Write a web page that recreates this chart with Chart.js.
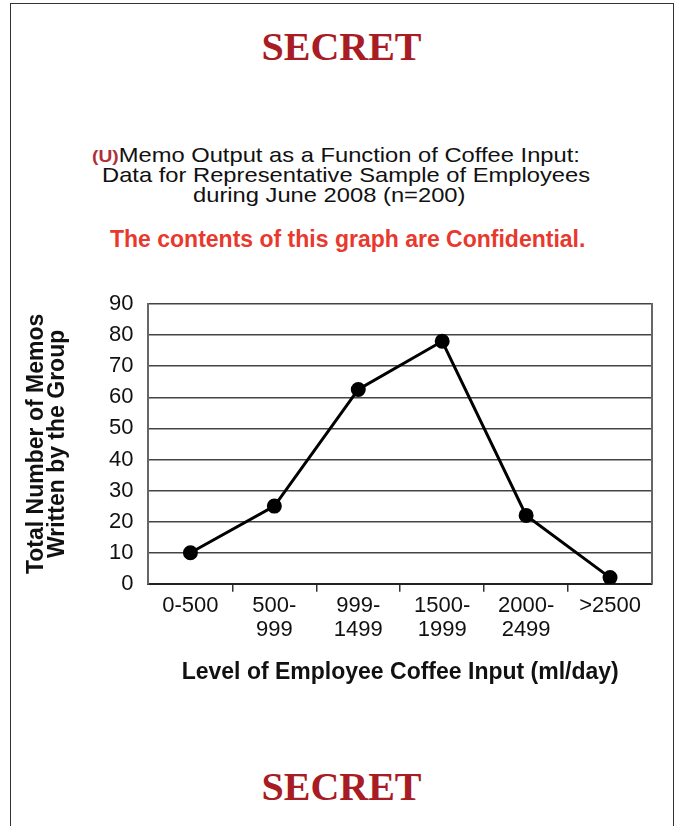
<!DOCTYPE html>
<html>
  <head>
    <title>Memo Output as a Function of Coffee Input</title>
    <script src="https://cdn.jsdelivr.net/npm/chart.js@4"></script>
    <style>
      body {
        margin: 0;
        background: #fff;
        font-family: "Liberation Sans", Arial, sans-serif;
      }
      #page {
        position: relative;
        width: 686px;
        height: 826px;
        overflow: hidden;
      }
      #frame {
        position: absolute;
        left: 10px;
        top: 3px;
        width: 662px;
        height: 900px;
        border: 1.5px solid #333;
      }
      .secret {
        position: absolute;
        left: 0;
        width: 683px;
        text-align: center;
        font-family: "Liberation Serif", "Times New Roman", serif;
        font-weight: bold;
        font-size: 40px;
        line-height: 40px;
        color: #a81c24;
      }
      .title {
        position: absolute;
        font-size: 21px;
        line-height: 20px;
        color: #111;
        white-space: nowrap;
        transform: scaleX(1.13);
        transform-origin: left top;
      }
      .u {
        font-size: 17px;
        font-weight: bold;
        color: #b0303a;
      }
      #confidential {
        position: absolute;
        left: 110px;
        top: 228px;
        font-size: 23px;
        line-height: 23px;
        font-weight: bold;
        color: #e8392e;
        white-space: nowrap;
      }
      #container {
        position: absolute;
        left: 0;
        top: 270px;
        width: 686px;
        height: 440px;
      }
    </style>
  </head>

  <body>
    <div id="page">
      <div id="frame"></div>
      <div class="secret" style="top: 27px">SECRET</div>
      <div class="title" style="left: 92px; top: 145px"><span class="u">(U)</span>Memo Output as a Function of Coffee Input:</div>
      <div class="title" style="left: 102px; top: 165px">Data for Representative Sample of Employees</div>
      <div class="title" style="left: 193px; top: 185px">during June 2008 (n=200)</div>
      <div id="confidential">The contents of this graph are Confidential.</div>
      <div id="container">
        <canvas id="canvas"></canvas>
      </div>
      <div class="secret" style="top: 767px">SECRET</div>
    </div>
    <script>
      // coffee input bands (ml/day)
      const categories = [
        '0-500',
        ['500-', '999'],
        ['999-', '1499'],
        ['1500-', '1999'],
        ['2000-', '2499'],
        '>2500',
      ];
      // total memos written by the group
      const memos = [10, 25, 62.5, 78, 22, 2];
      const yTicks = { min: 0, max: 90, step: 10 };

      Chart.defaults.font.family = '"Liberation Sans", Arial, sans-serif';
      Chart.defaults.color = '#111';

      window.onload = () => {
        const ctx = document.getElementById('canvas').getContext('2d');
        window.memoChart = new Chart(ctx, {
          type: 'line',
          data: {
            labels: categories,
            datasets: [
              {
                label: 'Memos',
                data: memos,
                borderColor: '#000',
                borderWidth: 3,
                backgroundColor: '#000',
                pointBackgroundColor: '#000',
                pointBorderColor: '#000',
                pointRadius: 6,
                tension: 0,
              },
            ],
          },
          options: {
            responsive: true,
            maintainAspectRatio: false,
            animation: false,
            layout: {
              padding: { top: 34, left: 10, right: 34, bottom: 18 },
            },
            plugins: {
              legend: { display: false },
              tooltip: { enabled: false },
            },
            scales: {
              x: {
                offset: true,
                grid: {
                  offset: true,
                  drawOnChartArea: false,
                  tickLength: 8,
                  lineWidth: 1.5,
                  // no tick marks at the two outer edges
                  color: (c) => (c.type !== 'tick' || c.index === 0 ? 'rgba(0,0,0,0)' : '#333'),
                },
                border: { color: '#222', width: 2 },
                ticks: {
                  font: { size: 22, lineHeight: 1.05 },
                  padding: 3,
                  maxRotation: 0,
                  autoSkip: false,
                },
                title: {
                  display: true,
                  text: 'Level of Employee Coffee Input (ml/day)',
                  font: { size: 23, weight: 'bold', lineHeight: 1.0 },
                  padding: { top: 17, bottom: 8 },
                  color: '#111',
                },
              },
              y: {
                min: yTicks.min,
                max: yTicks.max,
                grid: {
                  drawTicks: false,
                  color: '#444',
                  lineWidth: 1.5,
                },
                border: { color: '#666', width: 2 },
                ticks: {
                  stepSize: yTicks.step,
                  font: { size: 22 },
                  padding: 15,
                },
                title: {
                  display: true,
                  text: ['Total Number of Memos', 'Written by the Group'],
                  font: { size: 23, weight: 'bold', lineHeight: 0.913 },
                  padding: { top: 16, bottom: 26 },
                  color: '#111',
                },
              },
              y2: {
                position: 'right',
                grid: { display: false, drawTicks: false },
                ticks: { display: false },
                border: { color: '#666', width: 2 },
              },
            },
          },
        });
      };
    </script>
  </body>
</html>
